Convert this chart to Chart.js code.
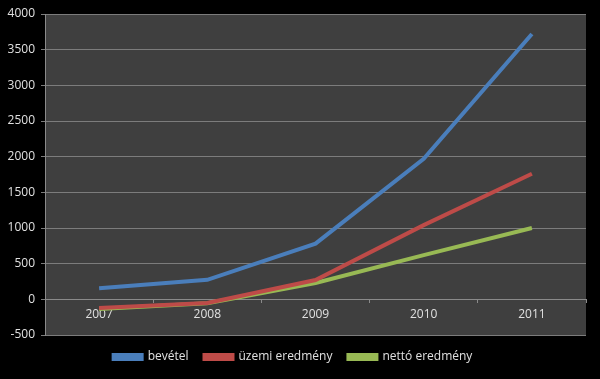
<!DOCTYPE html>
<html>
<head>
<meta charset="utf-8">
<script src="https://cdn.jsdelivr.net/npm/chart.js@4/dist/chart.umd.min.js"></script>
<style>
html,body{margin:0;padding:0;background:#000;}
#wrap{width:600px;height:379px;}
</style>
</head>
<body>
<div id="wrap"><canvas id="c" width="600" height="379"></canvas></div>
<script>
const categories = ['2007', '2008', '2009', '2010', '2011'];
const bevetel = [155, 273, 780, 1970, 3720];
const uzemiEredmeny = [-120, -50, 270, 1040, 1760];
const nettoEredmeny = [-135, -56, 230, 620, 1000];
const yTicks = [-500, 0, 500, 1000, 1500, 2000, 2500, 3000, 3500, 4000];

const bgPlugin = {
  id: 'bg',
  beforeDraw(chart) {
    const ctx = chart.ctx, a = chart.chartArea;
    ctx.save();
    ctx.fillStyle = '#000';
    ctx.fillRect(0, 0, chart.width, chart.height);
    ctx.fillStyle = '#3f3f3f';
    ctx.fillRect(a.left, a.top, a.right - a.left, a.bottom - a.top);
    ctx.restore();
  }
};

const font = { family: 'Open Sans, Noto Sans, sans-serif', size: 12 };

new Chart(document.getElementById('c'), {
  type: 'line',
  data: {
    labels: categories,
    datasets: [
      { label: 'bevétel', data: bevetel, borderColor: '#4a7ebb', backgroundColor: '#4a7ebb', borderWidth: 4, pointRadius: 0, tension: 0 },
      { label: 'üzemi eredmény', data: uzemiEredmeny, borderColor: '#be4b48', backgroundColor: '#be4b48', borderWidth: 4, pointRadius: 0, tension: 0 },
      { label: 'nettó eredmény', data: nettoEredmeny, borderColor: '#98b954', backgroundColor: '#98b954', borderWidth: 4, pointRadius: 0, tension: 0 }
    ]
  },
  options: {
    responsive: false,
    animation: false,
    layout: { padding: { left: 0, right: 14, top: 14, bottom: 6 } },
    plugins: {
      legend: {
        position: 'bottom',
        labels: {
          color: '#e0e0e0',
          font: font,
          boxWidth: 28,
          boxHeight: 4,
          padding: 16
        }
      },
      tooltip: { enabled: false }
    },
    scales: {
      x: {
        position: { y: 0 },
        offset: true,
        grid: { display: true, drawOnChartArea: false, drawTicks: true, tickLength: 3, offset: true, color: '#8a8a8a' },
        border: { display: true, color: '#8a8a8a', width: 1 },
        ticks: { color: '#e0e0e0', font: font, padding: 5 }
      },
      y: {
        min: -500,
        max: 4000,
        afterBuildTicks(scale) { scale.ticks = yTicks.map(v => ({ value: v })); },
        afterFit(scale) { scale.width = 45; },
        grid: { color: '#7c7c7c', tickLength: 4, lineWidth: 1 },
        border: { display: true, color: '#8a8a8a' },
        ticks: { color: '#e0e0e0', font: font, padding: 6, callback: v => String(v) }
      }
    }
  },
  plugins: [bgPlugin]
});
</script>
</body>
</html>
